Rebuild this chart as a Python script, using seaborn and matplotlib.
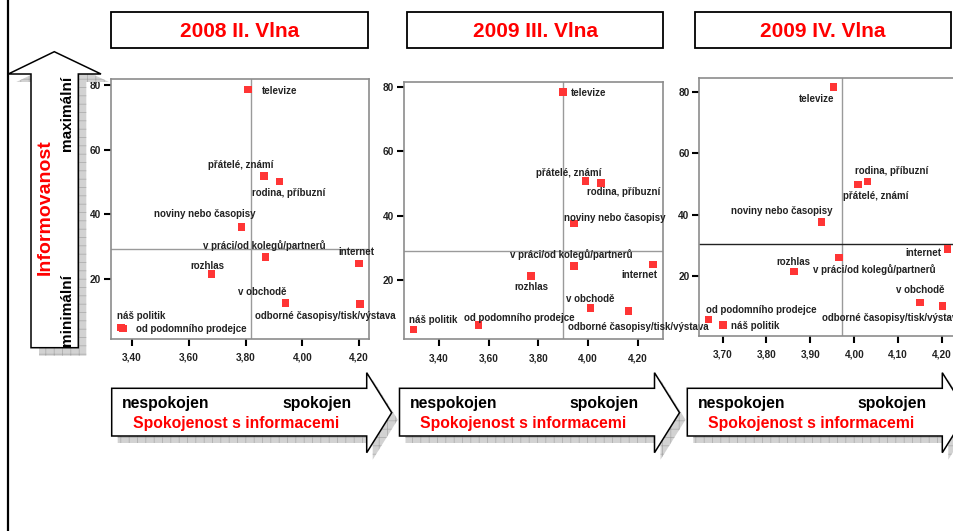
import matplotlib
matplotlib.use('Agg')
import matplotlib.pyplot as plt
import seaborn as sns
import pandas as pd
from matplotlib.patches import Polygon, Rectangle

# --- data -------------------------------------------------------------
categories = ['televize', 'přátelé, známí', 'rodina, příbuzní',
              'noviny nebo časopisy', 'v práci/od kolegů/partnerů',
              'internet', 'rozhlas', 'v obchodě',
              'odborné časopisy/tisk/výstava', 'od podomního prodejce',
              'náš politik']

waves = ['2008 II. Vlna', '2009 III. Vlna', '2009 IV. Vlna']

spokojenost_2008_ii = [3.808, 3.866, 3.919, 3.786, 3.871, 4.199, 3.680, 3.941, 4.203, 3.369, 3.361]
informovanost_2008_ii = [78.5, 51.8, 50.2, 36.1, 26.9, 24.8, 21.6, 12.7, 12.4, 4.7, 5.0]

spokojenost_2009_iii = [3.899, 3.989, 4.052, 3.943, 3.943, 4.260, 3.770, 4.009, 4.163, 3.559, 3.298]
informovanost_2009_iii = [78.4, 50.8, 50.2, 37.5, 24.4, 24.8, 21.3, 11.4, 10.3, 6.1, 4.6]

spokojenost_2009_iv = [3.953, 4.009, 4.030, 3.925, 3.965, 4.212, 3.863, 4.150, 4.201, 3.668, 3.701]
informovanost_2009_iv = [81.7, 49.8, 50.8, 37.7, 26.0, 28.8, 21.4, 11.3, 10.2, 5.8, 3.9]

# reference (mean) lines per wave
prumer_spokojenost = [3.819, 3.899, 3.972]
prumer_informovanost = [29.4, 29.0, 30.4]

x_ticks = [[3.4, 3.6, 3.8, 4.0, 4.2],
           [3.4, 3.6, 3.8, 4.0, 4.2],
           [3.7, 3.8, 3.9, 4.0, 4.1, 4.2]]
y_ticks = [20, 40, 60, 80]

df = pd.concat([
    pd.DataFrame({'vlna': w, 'zdroj': categories, 'spokojenost': xs, 'informovanost': ys})
    for w, xs, ys in zip(waves,
                         [spokojenost_2008_ii, spokojenost_2009_iii, spokojenost_2009_iv],
                         [informovanost_2008_ii, informovanost_2009_iii, informovanost_2009_iv])
])

# --- layout (pixels) --------------------------------------------------
W, H = 954, 531
panel_boxes = [(111, 79, 369, 339), (404, 82.3, 662.7, 339.3), (699.3, 78, 957, 335.7)]
x_limits = [(3.326, 4.235), (3.259, 4.300), (3.647, 4.234)]
y_limits = [(1.5, 81.8), (1.6, 81.4), (0.5, 84.6)]
hline_colors = ['#9a9a9a', '#9a9a9a', '#222222']
title_boxes = [(111, 12, 367.7, 48.3), (407.3, 12, 663.3, 48.3), (695.3, 12, 950.7, 48.3)]
arrow_step = 287.8

# label placement (ha, dx, dy) in pixels, dy downwards
label_offsets = [
    [('left', 14, 1), ('center', -24, -11), ('center', 9, 12), ('center', -37, -13),
     ('center', -1, -11), ('center', -2, -12), ('center', -4, -8), ('center', -23, -11),
     ('left', -105, 12), ('left', 13, 0), ('left', -4, -12)],
    [('left', 8, 1), ('center', -17, -8), ('center', 23, 9), ('left', -10, -6),
     ('center', -3, -11), ('center', -13, 10), ('center', 0, 11), ('center', 0, -9),
     ('left', -61, 16), ('center', 41, -7), ('center', 19, -10)],
    [('right', 1, 12), ('center', 18, 11), ('center', 24, -11), ('center', -40, -11),
     ('center', 35, 12), ('right', -6, 4), ('center', -1, -10), ('center', 0, -13),
     ('left', -121, 12), ('left', -3, -9), ('left', 8, 1)],
]

sns.set_theme(style='ticks')
plt.rcParams['font.family'] = ['Liberation Sans', 'DejaVu Sans']
plt.rcParams['hatch.linewidth'] = 0.5

fig = plt.figure(figsize=(W / 100, H / 100), dpi=100)
fig.patch.set_facecolor('white')


def px_axes(l, t, r, b):
    return fig.add_axes([l / W, 1 - b / H, (r - l) / W, (b - t) / H])


for i, wave in enumerate(waves):
    ax = px_axes(*panel_boxes[i])
    ax.patch.set_alpha(0)
    sub = df[df['vlna'] == wave]
    sns.scatterplot(data=sub, x='spokojenost', y='informovanost', marker='s', s=30,
                    color='#ff3535', edgecolor='none', linewidth=0, ax=ax, zorder=3,
                    legend=False)
    ax.axvline(prumer_spokojenost[i], color='#9a9a9a', lw=1, zorder=1)
    ax.axhline(prumer_informovanost[i], color=hline_colors[i], lw=1, zorder=1)
    ax.set_xlim(*x_limits[i])
    ax.set_ylim(*y_limits[i])
    ax.set_xticks(x_ticks[i])
    ax.set_xticklabels([f'{v:.2f}'.replace('.', ',') for v in x_ticks[i]])
    ax.set_yticks(y_ticks)
    ax.set_yticklabels([str(v) for v in y_ticks])
    ax.set_xlabel('')
    ax.set_ylabel('')
    ax.tick_params(axis='both', length=5, width=1.5, color='black', labelsize=7.3,
                   labelcolor='#222222')
    ax.tick_params(axis='x', pad=5)
    ax.tick_params(axis='y', pad=2)
    for lab in ax.get_xticklabels() + ax.get_yticklabels():
        lab.set_fontweight('bold')
    for sp in ax.spines.values():
        sp.set_visible(True)
        sp.set_color('#8c8c8c')
        sp.set_linewidth(1.2)
    for (name, x, y), (ha, dx, dy) in zip(sub[['zdroj', 'spokojenost', 'informovanost']].values,
                                           label_offsets[i]):
        ax.annotate(name, (x, y), xytext=(dx, -dy), textcoords='offset pixels',
                    ha=ha, va='center', fontsize=7, fontweight='bold', color='#222222')

# --- decorations in pixel coordinates ---------------------------------
deco = fig.add_axes([0, 0, 1, 1])
deco.set_xlim(0, W)
deco.set_ylim(H, 0)
deco.axis('off')

shadow_kw = dict(facecolor='#d2d2d2', edgecolor='#a8a8a8', hatch='++', linewidth=0, zorder=1)
shape_kw = dict(facecolor='white', edgecolor='black', linewidth=1.1, zorder=2)

# vertical frame line on the left
deco.plot([8.5, 8.5], [0, H], color='black', lw=1.6, zorder=3)

# up arrow (Informovanost)
up = [(31, 347.7), (31, 74), (8.3, 74), (54.3, 51.7), (101, 74), (78.3, 74), (78.3, 347.7)]
deco.add_patch(Polygon([(x + 8, y + 8) for x, y in up], closed=True, **shadow_kw))
deco.add_patch(Polygon(up, closed=True, **shape_kw))
deco.text(45, 207.5, 'Informovanost', rotation=90, ha='center', va='center',
          color='#ff0000', fontsize=14, fontweight='bold', zorder=4)
deco.text(66.7, 113, 'maximální', rotation=90, ha='center', va='center',
          color='black', fontsize=11, fontweight='bold', zorder=4)
deco.text(66.7, 310, 'minimální', rotation=90, ha='center', va='center',
          color='black', fontsize=11, fontweight='bold', zorder=4)

# titles and right arrows
for i, wave in enumerate(waves):
    l, t, r, b = title_boxes[i]
    deco.add_patch(Rectangle((l, t), r - l, b - t, facecolor='white', edgecolor='black',
                             linewidth=1.3, zorder=2))
    deco.text((l + r) / 2, (t + b) / 2 + 1, wave, ha='center', va='center',
              color='#ff0000', fontsize=15, fontweight='bold', zorder=3)

    o = i * arrow_step
    right = [(111.7 + o, 388.3), (366.7 + o, 388.3), (366.7 + o, 372.7), (391.7 + o, 412.7),
             (366.7 + o, 452.7), (366.7 + o, 436), (111.7 + o, 436)]
    deco.add_patch(Polygon([(x + 6, y + 7) for x, y in right], closed=True, **shadow_kw))
    deco.add_patch(Polygon(right, closed=True, **shape_kw))
    deco.text(165.9 + o, 403.3, 'nespokojen', ha='center', va='center',
              color='black', fontsize=11.3, fontweight='bold', zorder=4)
    deco.text(316.7 + o, 403.3, 'spokojen', ha='center', va='center',
              color='black', fontsize=11.3, fontweight='bold', zorder=4)
    deco.text(235.8 + o, 423.3, 'Spokojenost s informacemi', ha='center', va='center',
              color='#ff0000', fontsize=11.3, fontweight='bold', zorder=4)

fig.savefig('out.png', dpi=100)
